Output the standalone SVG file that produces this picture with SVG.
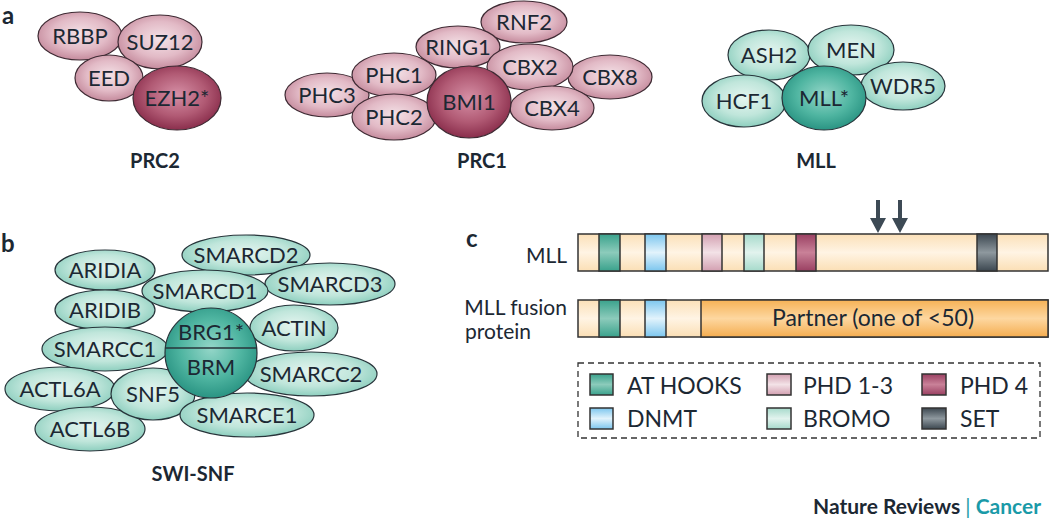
<svg xmlns="http://www.w3.org/2000/svg" width="1050" height="524" viewBox="0 0 1050 524">
<defs>
<radialGradient id="gMauve" cx="50%" cy="45%" r="55%"><stop offset="0" stop-color="#f4e2e7"/><stop offset="0.6" stop-color="#e2bac6"/><stop offset="1" stop-color="#c58b9d"/></radialGradient>
<radialGradient id="gMauveD" cx="50%" cy="45%" r="55%"><stop offset="0" stop-color="#d690a6"/><stop offset="0.6" stop-color="#b15a74"/><stop offset="1" stop-color="#8a2e4c"/></radialGradient>
<radialGradient id="gTeal" cx="50%" cy="45%" r="55%"><stop offset="0" stop-color="#e5f5f0"/><stop offset="0.6" stop-color="#c0e6db"/><stop offset="1" stop-color="#8ecfbf"/></radialGradient>
<radialGradient id="gTealD" cx="50%" cy="45%" r="55%"><stop offset="0" stop-color="#94d6c8"/><stop offset="0.6" stop-color="#4fb5a1"/><stop offset="1" stop-color="#2a9483"/></radialGradient>
<linearGradient id="bCream" x1="0" y1="0" x2="0" y2="1"><stop offset="0" stop-color="#fbe0b8"/><stop offset="0.5" stop-color="#fff4e4"/><stop offset="1" stop-color="#fbdfb5"/></linearGradient>
<linearGradient id="bOrange" x1="0" y1="0" x2="0" y2="1"><stop offset="0" stop-color="#f6b256"/><stop offset="0.5" stop-color="#fdd7a0"/><stop offset="1" stop-color="#f5ad50"/></linearGradient>
<linearGradient id="bAT" x1="0" y1="0" x2="0" y2="1"><stop offset="0" stop-color="#3aa28c"/><stop offset="0.5" stop-color="#8ccbbb"/><stop offset="1" stop-color="#3aa28c"/></linearGradient>
<linearGradient id="bDNMT" x1="0" y1="0" x2="0" y2="1"><stop offset="0" stop-color="#7cc6ee"/><stop offset="0.5" stop-color="#e2f3fc"/><stop offset="1" stop-color="#7cc6ee"/></linearGradient>
<linearGradient id="bPHD13" x1="0" y1="0" x2="0" y2="1"><stop offset="0" stop-color="#d3a0b1"/><stop offset="0.5" stop-color="#f3e2e7"/><stop offset="1" stop-color="#d3a0b1"/></linearGradient>
<linearGradient id="bBROMO" x1="0" y1="0" x2="0" y2="1"><stop offset="0" stop-color="#a6dacb"/><stop offset="0.5" stop-color="#e2f3ee"/><stop offset="1" stop-color="#a6dacb"/></linearGradient>
<linearGradient id="bPHD4" x1="0" y1="0" x2="0" y2="1"><stop offset="0" stop-color="#9a4062"/><stop offset="0.5" stop-color="#c98198"/><stop offset="1" stop-color="#9a4062"/></linearGradient>
<linearGradient id="bSET" x1="0" y1="0" x2="0" y2="1"><stop offset="0" stop-color="#3c4750"/><stop offset="0.5" stop-color="#8e989e"/><stop offset="1" stop-color="#3c4750"/></linearGradient>
</defs>
<style>
text{font-family:Lato,"Liberation Sans",sans-serif;fill:#1c2833}
.n{font-size:22px;text-anchor:middle}
.t{font-size:20px;font-weight:bold;text-anchor:middle}
.p{font-size:24px;font-weight:bold}
.lm{fill:url(#gMauve);stroke:#3e2a33;stroke-width:1.2}
.dm{fill:url(#gMauveD);stroke:#3e2a33;stroke-width:1.2}
.lt{fill:url(#gTeal);stroke:#27343a;stroke-width:1.2}
.dt{fill:url(#gTealD);stroke:#27343a;stroke-width:1.2}
.seg{stroke:#333;stroke-width:1.5}
.lg{font-size:23px}
.sw{stroke:#333;stroke-width:1.5}
.cl{font-size:21px}
</style>
<rect width="1050" height="524" fill="#fff"/>

<text class="p" x="2" y="24">a</text>
<text class="p" x="1" y="252">b</text>
<text class="p" x="466" y="247">c</text>

<g id="prc2">
<g id="RBBP"><ellipse class="lm" cx="80" cy="36" rx="42" ry="24"/><text class="n" x="80" y="44">RBBP</text></g>
<g id="SUZ12"><ellipse class="lm" cx="160" cy="42" rx="42" ry="27"/><text class="n" x="160" y="50">SUZ12</text></g>
<g id="EED"><ellipse class="lm" cx="109" cy="78" rx="34" ry="23"/><text class="n" x="109" y="86">EED</text></g>
<g id="EZH2"><ellipse class="dm" cx="177" cy="98" rx="44" ry="32"/><text class="n" x="177" y="106">EZH2*</text></g>
<text class="t" x="155" y="168">PRC2</text>
</g>

<g id="prc1">
<g id="RNF2"><ellipse class="lm" cx="524" cy="22" rx="43" ry="21"/><text class="n" x="524" y="30">RNF2</text></g>
<g id="RING1"><ellipse class="lm" cx="458" cy="47" rx="42" ry="21"/><text class="n" x="458" y="55">RING1</text></g>
<g id="PHC3"><ellipse class="lm" cx="327" cy="95" rx="42" ry="22"/><text class="n" x="327" y="103">PHC3</text></g>
<g id="PHC1"><ellipse class="lm" cx="394" cy="75" rx="42" ry="22"/><text class="n" x="394" y="83">PHC1</text></g>
<g id="PHC2"><ellipse class="lm" cx="394" cy="117" rx="42" ry="23"/><text class="n" x="394" y="125">PHC2</text></g>
<g id="CBX8"><ellipse class="lm" cx="610" cy="77" rx="42" ry="22"/><text class="n" x="610" y="85">CBX8</text></g>
<g id="CBX2"><ellipse class="lm" cx="530" cy="67" rx="43" ry="23"/><text class="n" x="530" y="75">CBX2</text></g>
<g id="CBX4"><ellipse class="lm" cx="552" cy="108" rx="42" ry="22"/><text class="n" x="552" y="116">CBX4</text></g>
<g id="BMI1"><ellipse class="dm" cx="469" cy="102" rx="42" ry="36"/><text class="n" x="469" y="110">BMI1</text></g>
<text class="t" x="482" y="168">PRC1</text>
</g>

<g id="mll-complex">
<g id="ASH2"><ellipse class="lt" cx="769" cy="55" rx="41" ry="25"/><text class="n" x="769" y="63">ASH2</text></g>
<g id="MEN"><ellipse class="lt" cx="851" cy="50" rx="43" ry="25"/><text class="n" x="851" y="58">MEN</text></g>
<g id="WDR5"><ellipse class="lt" cx="903" cy="86" rx="42" ry="24"/><text class="n" x="903" y="94">WDR5</text></g>
<g id="HCF1"><ellipse class="lt" cx="744" cy="101" rx="42" ry="26"/><text class="n" x="744" y="109">HCF1</text></g>
<g id="MLLstar"><ellipse class="dt" cx="824" cy="98" rx="42" ry="32"/><text class="n" x="824" y="106">MLL*</text></g>
<text class="t" x="816" y="168">MLL</text>
</g>

<g id="swisnf">
<g id="ARIDIA"><ellipse class="lt" cx="105" cy="270" rx="50" ry="20"/><text class="n" x="105" y="278">ARIDIA</text></g>
<g id="SMARCD2"><ellipse class="lt" cx="246" cy="255" rx="64" ry="20"/><text class="n" x="246" y="263">SMARCD2</text></g>
<g id="SMARCD3"><ellipse class="lt" cx="330" cy="284" rx="65" ry="21"/><text class="n" x="330" y="292">SMARCD3</text></g>
<g id="SMARCD1"><ellipse class="lt" cx="205" cy="291" rx="63" ry="21"/><text class="n" x="205" y="299">SMARCD1</text></g>
<g id="ARIDIB"><ellipse class="lt" cx="105" cy="310" rx="50" ry="20"/><text class="n" x="105" y="318">ARIDIB</text></g>
<g id="ACTIN"><ellipse class="lt" cx="294" cy="328" rx="44" ry="23"/><text class="n" x="294" y="336">ACTIN</text></g>
<g id="SMARCC1"><ellipse class="lt" cx="105" cy="349" rx="63" ry="22"/><text class="n" x="105" y="357">SMARCC1</text></g>
<g id="SMARCC2"><ellipse class="lt" cx="311" cy="374" rx="66" ry="22"/><text class="n" x="311" y="382">SMARCC2</text></g>
<g id="ACTL6A"><ellipse class="lt" cx="60" cy="389" rx="55" ry="22"/><text class="n" x="60" y="397">ACTL6A</text></g>
<g id="ACTL6B"><ellipse class="lt" cx="90" cy="429" rx="55" ry="22"/><text class="n" x="90" y="437">ACTL6B</text></g>
<g id="SNF5"><ellipse class="lt" cx="153" cy="394" rx="42" ry="26"/><text class="n" x="153" y="402">SNF5</text></g>
<g id="SMARCE1"><ellipse class="lt" cx="247" cy="415" rx="67" ry="22"/><text class="n" x="247" y="423">SMARCE1</text></g>
<g id="BRG1"><ellipse class="dt" cx="211" cy="353" rx="46" ry="45"/><line x1="165" y1="348" x2="257" y2="348" stroke="#27343a" stroke-width="1.5"/><text class="n" x="211" y="340">BRG1*</text><text class="n" x="211" y="375">BRM</text></g>
<text class="t" x="193" y="481">SWI-SNF</text>
</g>

<g id="mll-protein">
<text class="cl" x="567" y="263" text-anchor="end">MLL</text>
<rect x="578" y="234" width="470" height="37" fill="url(#bCream)" stroke="#333" stroke-width="1.5"/>
<rect class="seg" x="599" y="234" width="21" height="37" fill="url(#bAT)"/>
<rect class="seg" x="645" y="234" width="21" height="37" fill="url(#bDNMT)"/>
<rect class="seg" x="702" y="234" width="20" height="37" fill="url(#bPHD13)"/>
<rect class="seg" x="744" y="234" width="20" height="37" fill="url(#bBROMO)"/>
<rect class="seg" x="796" y="234" width="20" height="37" fill="url(#bPHD4)"/>
<rect class="seg" x="977" y="234" width="20" height="37" fill="url(#bSET)"/>
</g>

<g id="connectors">
<path d="M876 200h4v18h6l-8 15l-8-15h6z" fill="#3d4a55"/>
<path d="M898 200h4v18h6l-8 15l-8-15h6z" fill="#3d4a55"/>
</g>

<g id="mll-fusion">
<text class="cl" x="567" y="315" text-anchor="end">MLL fusion</text>
<text class="cl" x="465" y="339">protein</text>
<rect x="578" y="300" width="470" height="37" fill="url(#bCream)" stroke="#333" stroke-width="1.5"/>
<rect class="seg" x="599" y="300" width="21" height="37" fill="url(#bAT)"/>
<rect class="seg" x="645" y="300" width="21" height="37" fill="url(#bDNMT)"/>
<rect x="701" y="300" width="347" height="37" fill="url(#bOrange)" stroke="#333" stroke-width="1.5"/>
<text x="873" y="326" font-size="23" text-anchor="middle">Partner (one of &lt;50)</text>
</g>

<g id="legend">
<rect x="578" y="363" width="462" height="75" fill="none" stroke="#333" stroke-width="1.3" stroke-dasharray="6,4"/>
<rect class="sw" x="590" y="374" width="23" height="21" fill="url(#bAT)"/><text class="lg" x="627" y="394">AT HOOKS</text>
<rect class="sw" x="767" y="374" width="24" height="21" fill="url(#bPHD13)"/><text class="lg" x="803" y="394">PHD 1-3</text>
<rect class="sw" x="922" y="374" width="24" height="21" fill="url(#bPHD4)"/><text class="lg" x="960" y="394">PHD 4</text>
<rect class="sw" x="590" y="408" width="23" height="21" fill="url(#bDNMT)"/><text class="lg" x="627" y="427">DNMT</text>
<rect class="sw" x="767" y="408" width="24" height="21" fill="url(#bBROMO)"/><text class="lg" x="803" y="427">BROMO</text>
<rect class="sw" x="922" y="408" width="24" height="21" fill="url(#bSET)"/><text class="lg" x="960" y="427">SET</text>
</g>

<text x="1041" y="514" font-size="21" font-weight="bold" text-anchor="end">Nature Reviews <tspan font-weight="normal" fill="#1a9aa8">|</tspan> <tspan fill="#1a9aa8">Cancer</tspan></text>
</svg>
